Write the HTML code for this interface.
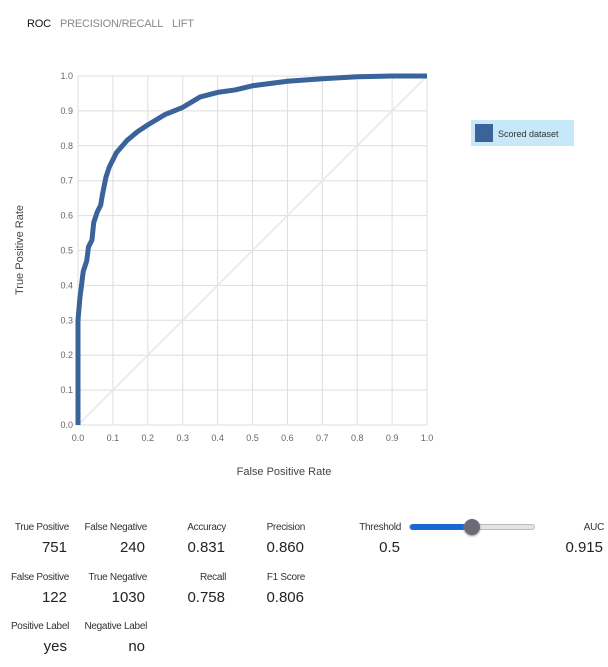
<!DOCTYPE html>
<html><head><meta charset="utf-8"><style>
body{margin:0;width:608px;height:667px;background:#fff;font-family:"Liberation Sans",sans-serif;position:relative;overflow:hidden}
.a{position:absolute}
.lab{font-size:10px;color:#333;text-align:right;width:70px;letter-spacing:-0.3px}
.val{font-size:15px;color:#222;text-align:right;width:70px}
.tab{font-size:11px;letter-spacing:-0.2px}
</style></head><body>
<div class="a tab" style="left:27px;top:18px;color:#111">ROC</div>
<div class="a tab" style="left:60px;top:18px;color:#888">PRECISION/RECALL</div>
<div class="a tab" style="left:172px;top:18px;color:#888">LIFT</div>
<svg class="a" style="left:0;top:0" width="608" height="500">
<g id="grid"></g><g id="ticks"></g>
<line id="diag" stroke="#e6e6e6" stroke-width="1.5"/>
<path id="curve" fill="none" stroke="#3a6399" stroke-width="5" stroke-linejoin="round"/>
<text transform="translate(23,250) rotate(-90)" text-anchor="middle" font-size="11" fill="#444" font-family="Liberation Sans">True Positive Rate</text>
<text x="284" y="475" text-anchor="middle" font-size="11" fill="#444" font-family="Liberation Sans">False Positive Rate</text>
<rect x="471" y="120" width="103" height="26" fill="#c7e8f8"/>
<rect x="475" y="124" width="18" height="18" fill="#3a6399"/>
<text x="498" y="137" font-size="9" fill="#333" font-family="Liberation Sans">Scored dataset</text>
</svg>
<script>
const ticks=[0,0.1,0.2,0.3,0.4,0.5,0.6,0.7,0.8,0.9,1.0];
const fpr=[0,0,0.005,0.01,0.015,0.025,0.03,0.04,0.045,0.055,0.065,0.07,0.08,0.09,0.11,0.14,0.17,0.2,0.25,0.3,0.35,0.4,0.45,0.5,0.6,0.7,0.8,0.9,1.0];
const tpr=[0,0.3,0.36,0.40,0.44,0.47,0.51,0.53,0.58,0.61,0.63,0.66,0.71,0.74,0.78,0.815,0.84,0.86,0.89,0.91,0.94,0.953,0.96,0.972,0.985,0.992,0.998,1,1];
const X=v=>78+v*349, Y=v=>425-v*349;
const ns="http://www.w3.org/2000/svg";
const g=document.getElementById('grid'), t=document.getElementById('ticks');
ticks.forEach(v=>{
 let l=document.createElementNS(ns,'line');l.setAttribute('x1',X(v));l.setAttribute('x2',X(v));l.setAttribute('y1',Y(0));l.setAttribute('y2',Y(1));l.setAttribute('stroke','#dedede');
 
 g.appendChild(l);
 let h=document.createElementNS(ns,'line');h.setAttribute('x1',X(0));h.setAttribute('x2',X(1));h.setAttribute('y1',Y(v));h.setAttribute('y2',Y(v));h.setAttribute('stroke','#dedede');
 
 g.appendChild(h);
 let a=document.createElementNS(ns,'text');a.setAttribute('x',X(v));a.setAttribute('y',441);a.setAttribute('text-anchor','middle');a.setAttribute('font-size','9');a.setAttribute('fill','#666');a.textContent=v.toFixed(1);
 
 t.appendChild(a);
 let b=document.createElementNS(ns,'text');b.setAttribute('x',73);b.setAttribute('y',Y(v)+3);b.setAttribute('text-anchor','end');b.setAttribute('font-size','9');b.setAttribute('fill','#666');b.textContent=v.toFixed(1);
 
 t.appendChild(b);
});
const d=document.getElementById('diag');d.setAttribute('x1',X(0));d.setAttribute('y1',Y(0));d.setAttribute('x2',X(1));d.setAttribute('y2',Y(1));


const c=document.getElementById('curve');c.setAttribute('d',fpr.map((f,i)=>(i?'L':'M')+X(f)+','+Y(tpr[i])).join(''));


</script>
<div class="a lab" style="left:-1px;top:522px">True Positive</div>
<div class="a val" style="left:-3px;top:539px">751</div>
<div class="a lab" style="left:77px;top:522px">False Negative</div>
<div class="a val" style="left:75px;top:539px">240</div>
<div class="a lab" style="left:156px;top:522px">Accuracy</div>
<div class="a val" style="left:155px;top:539px">0.831</div>
<div class="a lab" style="left:235px;top:522px">Precision</div>
<div class="a val" style="left:234px;top:539px">0.860</div>
<div class="a lab" style="left:331px;top:522px">Threshold</div>
<div class="a val" style="left:330px;top:539px">0.5</div>
<div class="a" style="left:409px;top:524px;width:126px;height:6px;border-radius:3px;background:#e4e4e4;border:1px solid #bbb;box-sizing:border-box"><div class="a" style="left:0;top:-1px;width:62px;height:6px;background:#1967d2;border-radius:3px"></div><div class="a" style="left:54px;top:-6px;width:16px;height:16px;border-radius:50%;background:#6b6b78;box-shadow:0 1px 2px #888"></div></div>
<div class="a lab" style="left:534px;top:522px">AUC</div>
<div class="a val" style="left:533px;top:539px">0.915</div>
<div class="a lab" style="left:-1px;top:572px">False Positive</div>
<div class="a val" style="left:-3px;top:589px">122</div>
<div class="a lab" style="left:77px;top:572px">True Negative</div>
<div class="a val" style="left:75px;top:589px">1030</div>
<div class="a lab" style="left:156px;top:572px">Recall</div>
<div class="a val" style="left:155px;top:589px">0.758</div>
<div class="a lab" style="left:235px;top:572px">F1 Score</div>
<div class="a val" style="left:234px;top:589px">0.806</div>
<div class="a lab" style="left:-1px;top:621px">Positive Label</div>
<div class="a val" style="left:-3px;top:638px">yes</div>
<div class="a lab" style="left:77px;top:621px">Negative Label</div>
<div class="a val" style="left:75px;top:638px">no</div>
</body></html>
